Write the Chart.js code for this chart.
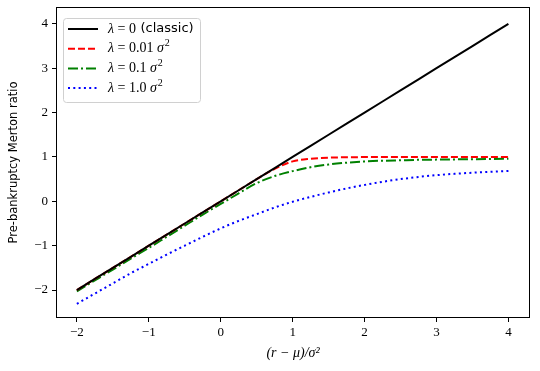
<!DOCTYPE html>
<html>
<head>
<meta charset="utf-8">
<script src="https://cdn.jsdelivr.net/npm/chart.js@4.4.0/dist/chart.umd.min.js"></script>
<style>
body{margin:0;background:#fff}
#wrap{width:540px;height:371px}
</style>
</head>
<body>
<div id="wrap"><canvas id="c" width="540" height="371"></canvas></div>
<script>
let xs=[-2,-1.75,-1.5,-1.25,-1,-0.75,-0.5,-0.25,0,0.25,0.5,0.75,1,1.25,1.5,1.75,2,2.25,2.5,2.75,3,3.25,3.5,3.75,4]
let classic=[-2,-1.75,-1.5,-1.25,-1,-0.75,-0.5,-0.25,0,0.25,0.5,0.75,1,1.25,1.5,1.75,2,2.25,2.5,2.75,3,3.25,3.5,3.75,4]
let lam001=[-2,-1.75,-1.5,-1.25,-1,-0.75,-0.5,-0.25,0,0.25,0.5,0.73,0.9,0.96,0.985,0.993,0.997,0.999,1,1,1,1,1,1,1]
let lam01=[-2.03,-1.78,-1.54,-1.29,-1.05,-0.8,-0.55,-0.3,-0.06,0.18,0.41,0.57,0.68,0.77,0.83,0.87,0.9,0.915,0.925,0.935,0.94,0.945,0.95,0.955,0.96]
let lam1=[-2.31,-2.08,-1.85,-1.62,-1.41,-1.2,-1,-0.8,-0.61,-0.44,-0.29,-0.14,-0.01,0.1,0.2,0.29,0.37,0.44,0.5,0.55,0.59,0.62,0.645,0.665,0.685]
let xTicks=[-2,-1,0,1,2,3,4]
let yTicks=[-2,-1,0,1,2,3,4]
let names=["λ = 0","λ = 0.01 σ²","λ = 0.1 σ²","λ = 1.0 σ²"]

function pts(ys){
return xs.map((x,i)=>({x:x,y:ys[i]}))
}

function fmt(v){
return v<0 ? "\u2212"+Math.abs(v) : ""+v
}

let frame={
id:"frame",
afterDatasetsDraw(chart){
let a=chart.chartArea
let ctx=chart.ctx
ctx.save()
ctx.strokeStyle="#000"
ctx.lineWidth=1
ctx.strokeRect(a.left+0.5,a.top+0.5,a.right-a.left-1,a.bottom-a.top-1)
ctx.restore()
}
}

let legendBox={
id:"legendBox",
afterDraw(chart){
let ctx=chart.ctx
let a=chart.chartArea
let x0=a.left+7,y0=a.top+11
ctx.save()
ctx.fillStyle="rgba(255,255,255,0.85)"
ctx.strokeStyle="#d0d0d0"
ctx.lineWidth=1
ctx.beginPath()
ctx.roundRect(x0+0.5,y0+0.5,137,84,3)
ctx.fill()
ctx.stroke()
chart.data.datasets.forEach((ds,i)=>{
let y=y0+11+i*19.7
ctx.strokeStyle=ds.borderColor
ctx.lineWidth=2
ctx.setLineDash(ds.borderDash||[])
ctx.beginPath()
ctx.moveTo(x0+5,y)
ctx.lineTo(x0+35,y)
ctx.stroke()
ctx.setLineDash([])
ctx.fillStyle="#000"
ctx.textBaseline="middle"
let tx=x0+45
let t=names[i]
ctx.font="italic 14px 'Liberation Serif'"
ctx.fillText("λ",tx,y)
tx+=ctx.measureText("λ").width
ctx.font="14px 'Liberation Serif'"
let rest=t.slice(1)
if(rest.indexOf("σ")>=0){
let p=rest.split("σ")
ctx.fillText(p[0],tx,y)
tx+=ctx.measureText(p[0]).width
ctx.font="italic 14px 'Liberation Serif'"
ctx.fillText("σ",tx,y)
tx+=ctx.measureText("σ").width
ctx.font="10px 'Liberation Serif'"
ctx.fillText("2",tx+1,y-5)
}else{
ctx.fillText(rest+" ",tx,y)
tx+=ctx.measureText(rest+" ").width
ctx.font="13px 'DejaVu Sans'"
ctx.fillText("(classic)",tx+1,y)
}
})
ctx.restore()
}
}

new Chart(document.getElementById("c"),{
type:"line",
data:{
datasets:[
{label:names[0],data:pts(classic),borderColor:"#000000",borderWidth:2,pointRadius:0,tension:0},
{label:names[1],data:pts(lam001),borderColor:"#ff0000",borderWidth:2,borderDash:[7,3],pointRadius:0,tension:0.4,cubicInterpolationMode:"monotone"},
{label:names[2],data:pts(lam01),borderColor:"#008000",borderWidth:2,borderDash:[10,3,2,3],pointRadius:0,tension:0.4,cubicInterpolationMode:"monotone"},
{label:names[3],data:pts(lam1),borderColor:"#0000ff",borderWidth:2,borderDash:[2,3.3],pointRadius:0,tension:0.4,cubicInterpolationMode:"monotone"}
]
},
options:{
responsive:false,
animation:false,
layout:{padding:{top:7,right:10,left:0,bottom:0}},
plugins:{legend:{display:false},tooltip:{enabled:false}},
scales:{
x:{
type:"linear",min:-2.29,max:4.3,
afterBuildTicks:s=>{s.ticks=xTicks.map(v=>({value:v}))},
afterFit:s=>{s.height=53;s.paddingLeft=0;s.paddingRight=0},
grid:{drawOnChartArea:false,drawTicks:true,tickLength:4,color:"#000"},
border:{display:false},
ticks:{color:"#000",padding:3,maxRotation:0,font:{family:"'Liberation Serif'",size:13},callback:v=>fmt(v)},
title:{display:true,text:"(r − μ)/σ²",color:"#000",padding:{top:2,bottom:9},font:{family:"'Liberation Serif'",size:14,style:"italic"}}
},
y:{
type:"linear",min:-2.63,max:4.38,
afterBuildTicks:s=>{s.ticks=yTicks.map(v=>({value:v}))},
afterFit:s=>{s.width=56;s.paddingTop=0;s.paddingBottom=0},
grid:{drawOnChartArea:false,drawTicks:true,tickLength:4,color:"#000"},
border:{display:false},
ticks:{color:"#000",padding:4,font:{family:"'Liberation Serif'",size:13},callback:v=>fmt(v)},
title:{display:true,text:"Pre-bankruptcy Merton ratio",color:"#000",padding:{top:7,bottom:2},font:{family:"'DejaVu Sans'",size:11.5}}
}
}
},
plugins:[frame,legendBox]
})
</script>
</body>
</html>
